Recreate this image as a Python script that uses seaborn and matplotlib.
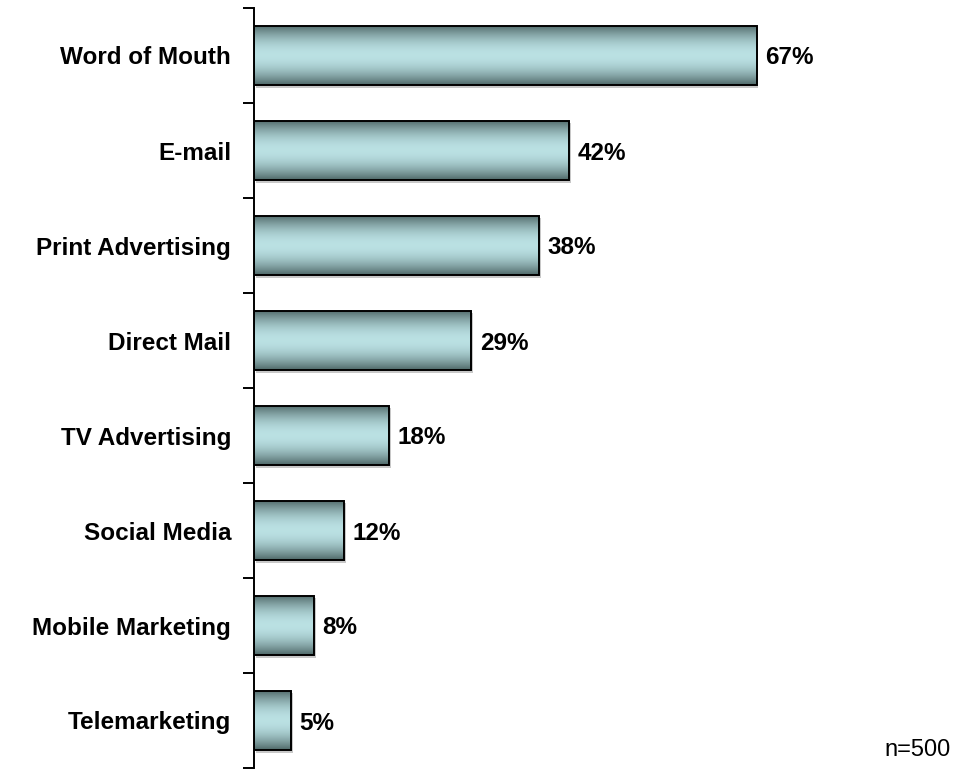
import numpy as np
import pandas as pd
import matplotlib
matplotlib.use("Agg")
import matplotlib.pyplot as plt
import seaborn as sns

channels = ["Word of Mouth", "E-mail", "Print Advertising", "Direct Mail",
            "TV Advertising", "Social Media", "Mobile Marketing", "Telemarketing"]
shares = [67, 42, 38, 29, 18, 12, 8, 5]
sample_note = "n=500"

df = pd.DataFrame({"channel": channels, "share": shares})

sns.set_theme(style="white")
plt.rcParams["font.family"] = ["Liberation Sans", "DejaVu Sans"]

W, H = 954, 771
fig = plt.figure(figsize=(W / 100, H / 100), dpi=100)
ax = fig.add_axes([254 / W, 3 / H, (W - 254) / W, (H - 11) / H])

sns.barplot(data=df, x="share", y="channel", orient="h", width=0.63,
            color="#9fc8cc", edgecolor="black", linewidth=1.4, ax=ax)

xmax = (W - 254) / 7.5
ax.set_xlim(0, xmax)
ax.set_ylim(len(channels) - 0.5, -0.5)

# vertical metallic gradient inside each bar
dark = np.array([0.30, 0.40, 0.40])
light = np.array([0.73, 0.88, 0.89])
t = np.linspace(0, 1, 200)
f = np.sin(np.pi * t) ** 0.9
grad = dark[None, :] + (light - dark)[None, :] * f[:, None]
grad = grad[:, None, :]

for patch in list(ax.patches):
    x0, y0 = patch.get_x(), patch.get_y()
    w, h = patch.get_width(), patch.get_height()
    # soft shadow under the bar
    ax.add_patch(plt.Rectangle((x0 + 0.25, y0 + 0.025), w, h, facecolor="#c8c8c8",
                               edgecolor="none", zorder=0.5))
    im = ax.imshow(grad, extent=[x0, x0 + w, y0 + h, y0], aspect="auto",
                   zorder=1.5, interpolation="bilinear")
    im.set_clip_path(patch)
    patch.set_facecolor("none")
    patch.set_zorder(2)

ax.set_xlim(0, xmax)
ax.set_ylim(len(channels) - 0.5, -0.5)

for i, v in enumerate(shares):
    ax.text(v + 1.1, i, f"{v}%", ha="left", va="center_baseline", fontsize=17.5,
            fontweight="bold", color="black")

for s in ["top", "right", "bottom"]:
    ax.spines[s].set_visible(False)
ax.spines["left"].set_color("black")
ax.spines["left"].set_linewidth(1.4)

ax.set_xticks([])
ax.set_xlabel("")
ax.set_ylabel("")
ax.set_yticks(range(len(channels)))
ax.set_yticklabels(channels, fontsize=17.5, fontweight="bold", color="black")
ax.tick_params(axis="y", which="major", length=0, pad=16.5)
ax.set_yticks(np.arange(-0.5, len(channels) + 0.5, 1), minor=True)
ax.tick_params(axis="y", which="minor", length=8, width=1.4, color="black",
               left=True, direction="out")

fig.text(951 / W, 1 - 750 / H, sample_note, ha="right", va="center",
         fontsize=17, color="black")

fig.savefig("out.png", dpi=100)
